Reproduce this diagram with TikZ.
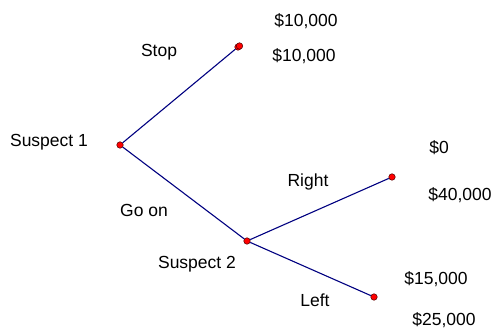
\documentclass[tikz,border=0pt]{standalone}
\usepackage{fontspec}
\setmainfont{Liberation Sans}
\begin{document}
\begin{tikzpicture}[x=1pt,y=-1pt,
  dot/.style={circle,fill=red,draw=black!70!red,line width=0.5pt,inner sep=0pt,minimum size=6.5pt},
  branch/.style={draw=blue!50!black,line width=1.1pt},
  lbl/.style={font=\fontsize{17.5}{20}\selectfont,inner sep=0pt}]
\useasboundingbox (0,0) rectangle (497,328);
\node[dot] (s1) at (120,145) {};
\node[dot] (stop) at (238,47) {};
\node[dot] (stopb) at (239.5,46) {};
\node[dot] (s2) at (247,241) {};
\node[dot] (right) at (392,177) {};
\node[dot] (left) at (374,297) {};
\draw[branch] (s1) -- (stop);
\draw[branch] (s1) -- (s2);
\draw[branch] (s2) -- (right);
\draw[branch] (s2) -- (left);
\node[lbl] (t1) at (306,21) {\$10,000};
\node[lbl] (t2) at (304,56) {\$10,000};
\node[lbl] (lstop) at (159,52) {Stop};
\node[lbl] (ls1) at (49,142) {Suspect 1};
\node[lbl] (t3) at (439,148) {\$0};
\node[lbl] (lright) at (308,182) {Right};
\node[lbl] (t4) at (460,195) {\$40,000};
\node[lbl] (lgo) at (144,210) {Go on};
\node[lbl] (ls2) at (197,264) {Suspect 2};
\node[lbl] (t5) at (436,279) {\$15,000};
\node[lbl] (lleft) at (315,300) {Left};
\node[lbl] (t6) at (444,320) {\$25,000};
\end{tikzpicture}
\end{document}
